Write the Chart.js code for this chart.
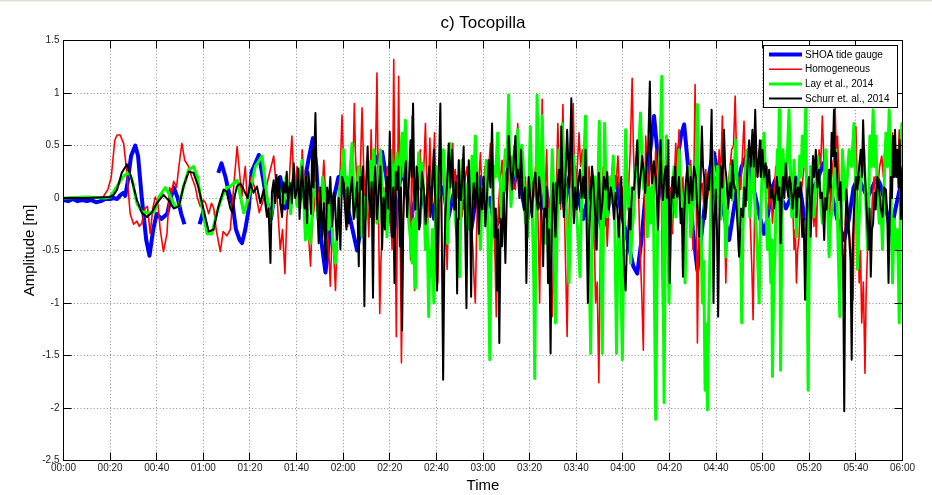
<!DOCTYPE html>
<html><head><meta charset="utf-8">
<script src="https://cdn.jsdelivr.net/npm/chart.js@4"></script>
<style>html,body{margin:0;padding:0;background:#fff}canvas{display:block}</style>
</head><body>
<canvas id="c" width="932" height="495"></canvas>
<script>
// ---- data (time in minutes after 00:00, amplitude in m) ----
const xTickLabels = ['00:00','00:20','00:40','01:00','01:20','01:40','02:00','02:20','02:40','03:00','03:20','03:40','04:00','04:20','04:40','05:00','05:20','05:40','06:00'];
const yTickLabels = ['-2.5','-2','-1.5','-1','-0.5','0','0.5','1','1.5'];
const seriesNames = ['SHOA tide gauge','Homogeneous','Lay et al., 2014','Schurr et. al., 2014'];

const shoa = [[0,-0.02],[2,-0.03],[4,-0.01],[6,-0.03],[8,-0.02],[10,-0.03],[12,-0.02],[14,-0.04],[16,-0.03],[18,-0.01],[20,-0.01],[21.5,0],[23,-0.01],[24.5,0.03],[25.7,0.05],[26.5,0.02],[27.5,0.15],[29,0.4],[30.8,0.5],[32,0.4],[33.6,0],[35.5,-0.4],[36.9,-0.55],[38.5,-0.3],[40,-0.15],[42,-0.2],[44.5,-0.15],[46,0],[47.3,0.1],[49,0],[50.5,-0.15],[51.9,-0.25],[55,null],[58.4,-0.25],[60.1,-0.12],[63,null],[66.4,0.24],[67.8,0.33],[69.5,0.2],[71,0.05],[72.5,-0.05],[74,-0.3],[75.6,-0.4],[76.6,-0.43],[78,-0.3],[79.5,-0.1],[80.7,0.25],[82.3,0.33],[83.8,0.41],[85.5,0.2],[87,0],[89,-0.2],[91,0.1],[93,0.2],[95,-0.1],[97,0],[99,0.2],[101,-0.05],[103,0.1],[105,0.35],[107,0.57],[108.5,0.3],[110,-0.3],[112.4,-0.71],[114,-0.4],[116,0],[118,0.2],[120,0.1],[122,-0.1],[124,-0.3],[126,-0.5],[127.5,-0.3],[129,0],[131,0.1],[133,0.3],[135,0.4],[136.7,0.44],[138.5,0.2],[140,-0.1],[141.5,-0.4],[143,-0.1],[145,0.29],[147,0.1],[149,-0.2],[151,0],[153,0.2],[155,-0.1],[157,0.1],[159,-0.2],[161,0],[163,0.1],[165,-0.2],[167,0],[169,0.2],[171,-0.1],[173,0],[175,-0.3],[177,0],[179,0.2],[181,-0.1],[183,0],[185,-0.3],[187,-0.2],[189,0.1],[191,0.3],[193,0.1],[195,0.3],[197,0],[199,-0.2],[201,0],[203,0.2],[205,-0.1],[207,0.1],[209,-0.2],[211,0.1],[213,0.2],[215,-0.1],[217,0.2],[219,0.3],[221,0],[223,-0.2],[225,0],[227,0.2],[229,-0.1],[231,-0.3],[233,-0.2],[235,0.1],[237,0.2],[239,-0.1],[241,-0.3],[243,-0.5],[244.5,-0.65],[246.2,-0.72],[248,-0.4],[250,0.1],[252,0.5],[253.4,0.78],[255,0.4],[257,0],[259,-0.2],[261,0],[263,0.3],[265,0.6],[266.3,0.7],[268,0.3],[270,-0.3],[272,-0.69],[274,-0.3],[276,0.1],[278,0.35],[279.1,0.43],[281,0.2],[283,-0.1],[285.6,-0.4],[287,-0.2],[289,0.1],[291,0.3],[293,0.4],[295,0.2],[297,0],[299,-0.2],[300.6,-0.34],[302,-0.2],[304,0.1],[306,0.2],[308,0],[310,-0.1],[312,0],[314,0.2],[316,0.1],[318,-0.2],[320,-0.1],[322,0.1],[324,0.2],[326,0.33],[328,0.2],[330,0],[332,-0.2],[335,-0.4],[337,-0.2],[339,0.1],[341,0.2],[343,0.1],[345,0],[347,0.1],[349,0.2],[351,0.1],[353,-0.1],[355,-0.34],[357,-0.1],[359,0.1],[360,0.2]];

const homogeneous = [[0,0],[5,0.01],[10,0],[15,0],[17,0.01],[19,0.08],[20.5,0.2],[22,0.55],[23,0.6],[24.3,0.6],[25.8,0.52],[27.2,0.24],[28.6,-0.15],[30.1,-0.25],[31.5,-0.22],[32.5,-0.27],[33.6,-0.24],[35,-0.1],[36,-0.08],[37.2,-0.34],[38.3,-0.1],[39.4,0.01],[40.5,-0.05],[41.5,-0.3],[42.9,-0.51],[44.4,-0.34],[45.5,0.1],[46.4,0.05],[47.3,0.16],[48.5,0.1],[49.5,0.3],[50.8,0.52],[52,0.36],[53.7,0.3],[55,0.2],[56.5,0.11],[57.5,0],[58.7,-0.08],[60,-0.02],[61,-0.05],[62.3,-0.15],[63.5,-0.05],[64.5,-0.1],[65.5,-0.3],[67.3,-0.51],[68.5,-0.32],[70.1,-0.36],[71.6,-0.3],[73,0.1],[74.5,0.49],[75.5,0.25],[76.5,0.01],[78,0.3],[79,-0.08],[80.5,0.2],[82,0.1],[84,-0.14],[86,0],[88,0.2],[90.2,0.4],[91.5,0.05],[93,-0.49],[94,-0.3],
[95,-0.72],[95.8,-0.2],[96.5,0],[97.2,0.3],[98,0.59],[98.7,0.2],[99.5,0.08],[100.2,0.3],[101,0.2],[101.7,-0.1],[102.4,0.46],[103.2,0.2],[104,0],[105,-0.3],[106,-0.65],[106.8,-0.2],[107.5,-0.11],[108.2,0.3],[109,0.1],[110.3,-0.2],[111.7,0.36],[112.3,0.1],[113,-0.2],[113.8,-0.5],[114.5,-0.84],[115,-0.5],[115.5,-0.3],[116.1,-0.6],[116.7,-0.88],[117.4,-0.4],[118,0],[118.8,0.3],[119.5,0.79],[120.2,0.3],[120.9,-0.11],[121.4,0.1],[121.9,-0.27],[122.8,0.1],[123.8,0.52],[124.3,0.4],[124.8,0.9],[125.3,0.4],[125.9,0.14],[126.3,0.3],[126.7,-0.11],[127.4,0.3],[128.1,0.86],[128.8,0.3],[129.5,-0.08],[130.2,0.1],[131,-0.37],[131.5,0],[132,0.65],[132.6,0.1],[133.1,-0.24],[133.8,0.3],[134.5,1.19],[135.1,0],[135.7,-1.1],[136.2,-0.6],[136.7,-0.37],[137.4,0.1],[138.1,-0.24],[138.9,0.3],[139.6,0.14],[140.3,-0.1],[141,-0.49],[141.7,1.32],[142.8,-1.32],[143.8,1.16],[145,-1.57],[145.5,-0.6],[146,-0.02],[146.7,0.35],[147.4,0.2],[148.2,0],[148.9,-0.59],[149.6,0.78],[150.6,-0.88],[151.4,-0.18],[152.3,0.1],[153.1,0.46],[153.7,0],[154.3,0.14],[154.8,0.4],[155.3,0.71],[155.8,0.2],[156.3,-0.24],[156.8,0.2],[157.2,0.57],[157.7,0.2],[158.2,-0.05],[158.7,0.3],[159.2,0.62],[159.9,-0.1],[160.6,-0.81],[161.5,0],[162.5,0.43],[163,0.2],[163.5,-0.05],[164.1,-0.3],[164.6,-0.68],[165.3,-0.1],[166,0.2],[166.5,0.4],[167,0.52],[167.5,0.1],[168.1,0.27],[168.8,0],[169.6,0.36],[170.3,0.1],[171,-0.18],[171.7,0],[172.4,0.2],[173.2,0.3],[173.9,-0.02],[174.8,-0.2],[175.7,-0.49],[176.2,-0.8],[176.7,-1],[177.2,-0.4],[177.7,0.08],[178.3,0.2],[178.9,0.43],[179.5,0.1],[180,0.01],[180.8,0.3],[181.7,0.14],[182.5,0.3],[183.2,0.52],[183.9,0.1],[184.6,-0.24],[185.2,-0.6],[185.7,-1.13],[186.2,-0.4],[186.7,-0.05],[187.5,0.2],[188.2,0.36],[188.9,0],[189.6,0.2],[190.3,0],[191,0.27],[191.8,0.1],[192.5,0.4],[193.2,0.1],[193.9,0.08],[194.4,0.4],[194.9,0.71],[195.5,0.3],[196,0.14],[196.8,0.3],[197.5,-0.02],[198.2,0.2],[198.9,-0.18],[199.6,0.1],[200.3,-0.11],[201,0.2],[201.8,0.01],[202.5,0.3],[203.2,0.14],[203.8,-0.4],[204.3,-1],[204.9,0.1],[205.4,0.94],[205.8,0.3],[206.2,-0.37],[206.8,0.1],[207.3,0.46],[207.8,0],[208.3,-0.37],[209,-0.7],[209.7,-1.13],[210.4,-0.5],[211.1,-0.24],[211.6,0.2],[212.1,0.71],[212.7,0.3],[213.3,-0.11],[213.8,0.4],[214.3,0.89],[214.7,0.3],[215,-0.18],[215.6,-0.8],[216.1,-1.32],[216.7,-0.4],[217.3,0.14],[218,0.5],[218.7,0.9],[219.2,0.3],[219.7,0.01],[220.5,0.3],[221.2,0.62],[221.9,0.3],[222.6,0.46],[223.3,0.1],[224,0.2],[224.8,0],[225.5,0.3],[226.2,0],[226.9,-0.49],[227.6,-0.2],[228.3,-1],[229,-0.8],[229.7,-1.76],[230.3,-0.6],[230.9,0.01],[231.6,0.3],[232.2,0.14],[232.8,-0.1],[233.3,-0.46],[234,-0.1],[234.8,0.14],[235.5,0.3],[236.2,0.08],[237,0.1],[237.9,0.4],[238.5,0.1],[239,-0.18],[239.7,0.1],[240.5,-0.37],[241.3,0.1],[242.2,-0.02],[243.1,0.4],[244,1.14],[244.5,0.5],[245,0.14],[245.6,0.3],[246.2,0.46],[246.8,0],[247.4,-0.49],[248.1,-0.9],[248.8,-1.45],[249.3,-0.3],[249.8,0.59],[250.5,0.3],[251.2,0.08],[251.9,0.4],[252.6,0.2],[253.3,0],[254.1,0.46],[254.7,0.1],[255.3,0.2],[255.8,0.5],[256.2,0.78],[256.7,-0.3],[257.2,-1.29],[257.8,-0.3],[258.4,0.46],[259.1,0.1],[259.8,-0.18],[260.5,0.1],[261.3,-0.34],[262,0.1],[262.7,0.52],[263.4,0.2],[264.1,0.65],[264.7,0.2],[265.3,-0.02],[265.8,0.2],[266.3,-0.34],[267,0],[267.7,0.14],[268.4,0],[269.1,0.36],[269.6,0.1],[270.1,-0.49],[270.5,0.2],[271,1.08],[271.5,0],[272,-1.38],[272.5,-0.5],[273,-0.18],[273.5,0.1],[274.1,0.14],[274.8,-0.1],[275.6,0.27],[276.3,0],[277,0.08],[277.7,0.3],[278.4,0.27],[279.1,0],[279.9,0.2],[280.6,0],[281.3,0.46],[282,0.2],[282.7,0.78],[283.5,0],[284.2,-0.81],[284.8,-0.2],[285.3,0.14],[286,0.3],[286.7,0.46],[287.5,0.5],[288.2,0.97],[288.9,0.3],[289.6,-0.18],[290.1,0.2],[290.6,0.08],[291.3,0.4],[292,0.73],[292.7,0.2],[293.5,-0.02],[294.2,0.1],[294.9,-0.37],[295.4,-0.7],[295.9,-1.16],[296.5,-0.2],[297,0.62],[297.7,0.2],[298.5,0.46],[299,0.2],[299.6,0.55],[300.3,0.2],[301,0.14],[301.9,0.3],[302.8,-0.11],[303.5,0.1],[304.2,-0.24],[304.9,0],[305.6,0.3],[306.6,0],[307.7,0.2],[308.8,0],[309.9,0.27],[311,0.1],[312,0.3],[312.8,0],[313.5,-0.49],[314,-0.3],[314.5,-0.81],[315,-0.5],[315.6,-0.37],[316.3,0],[317,0.14],[317.8,0.3],[318.5,0.46],[319.2,0],[319.9,0.14],[321,0],[322,-0.27],[322.5,0],[323,-0.37],[323.6,0.1],[324.2,0.46],[324.9,0.3],[325.6,0.78],[326.5,0.2],[327.4,0.4],[328,0],[328.5,-0.49],[329,0],[329.6,0.36],[330.3,0.2],[331.1,0.86],[331.6,0.4],[332.1,0.59],[332.8,0.2],[333.5,-0.18],[334.2,-0.5],[334.9,-0.97],[335.4,-0.3],[335.9,0.05],[336.8,-0.2],[337.8,-0.49],[338.3,-0.6],[338.8,-0.97],[339.4,0],[340,0.68],[340.7,0],[341.4,-0.81],[342,-0.5],[342.5,-1.19],[343.2,-0.8],[343.9,-1.67],[344.4,-0.9],[345,-0.49],[345.7,-0.2],[346.4,-0.37],[347.1,0],[347.8,0.2],[348.5,0],[349.3,0.08],[350.2,0.3],[351.1,0.4],[351.8,0.2],[352.5,0.52],[353.4,0.3],[354.3,0.52],[355,0.3],[355.7,0.62],[356.4,0.2],[357.1,0.4],[357.8,0.2],[358.6,0.65],[359.1,0.4],[359.7,0.3],[360,0.3]];

const lay = [[0,0],[10,0.01],[18,0],[20,0.01],[22.9,0.11],[25.5,0.2],[27.9,0.25],[29.5,0.17],[31.5,-0.05],[33.6,-0.13],[35.8,-0.14],[38.7,-0.14],[41,0.01],[43.7,0.1],[45.5,0.03],[47.9,-0.08],[49.5,-0.08],[51.5,0.11],[53.7,0.27],[55.8,0.3],[57.5,0.2],[59.4,-0.08],[61.6,-0.34],[63.7,-0.34],[65.8,-0.14],[68,0.01],[70.1,0.1],[71.6,0.11],[74.5,0.17],[77.3,-0.14],[79.5,0.01],[82.3,0.3],[85.2,0.4],[87.3,0.01],[88.8,-0.21],[91.6,0.14],
[94.5,-0.05],[95.5,0.2],[96.5,0.1],[97.5,-0.15],[98.8,0.27],[99.5,0.1],[100.2,-0.08],[101.3,0.2],[102.4,0.36],[103.1,0],[103.8,-0.4],[104.5,-0.1],[105.2,-0.35],[106,-0.43],[107,0],[108.1,0.14],[109.1,-0.2],[110.2,-0.11],[111.2,0.2],[112.2,-0.1],[113.1,0.05],[113.8,-0.3],[114.5,0.01],[115.6,-0.4],[116.7,-0.62],[117.4,-0.3],[118.1,0.01],[119.2,0.2],[120.3,0.46],[121,0.1],[121.6,0.2],[122.4,-0.11],[123.1,0.3],[123.8,0.52],[124.5,0.1],[125.2,-0.18],[126,0.1],[126.7,0.3],[127.4,0],[128.1,-0.37],[128.6,-0.1],[129.1,0.01],[129.7,-0.2],[130.3,0.2],[131,0],[131.7,0.35],[132.4,0.1],[133.1,0.46],[133.8,0.1],[134.5,-0.24],[135.2,0.1],[136,0.46],[136.7,0.1],[137.4,-0.18],[138.1,0.05],[138.8,-0.37],[139.5,0.1],[140.3,0.46],[141,0.2],[141.7,0.08],[142.4,0.3],[143.1,0.43],[143.8,0],[144.5,0.35],[145.3,0.62],[146,0.2],[146.7,0.74],[147.4,0.2],[148.1,-0.21],[148.9,-0.4],[149.6,-0.62],[150.3,-0.2],[151,-0.86],[151.7,0],[152.4,0.43],[153.1,0.1],[153.9,0.33],[154.6,0],[155.3,-0.49],[156,-0.2],[156.7,-1.13],[157.2,-0.5],[157.7,-0.75],[158.3,-0.3],[158.9,-1],[159.6,-0.2],[160.3,0.3],[161,0],[161.7,0.08],[162.3,0.3],[163,0.46],[163.9,0],[164.8,-0.43],[165.4,0.1],[166,0.52],[166.7,0.2],[167.4,0.08],[168.1,-0.2],[168.9,-0.37],[169.4,-0.2],[170,-0.75],[170.5,-0.1],[171,0.36],[171.7,0],[172.4,0.14],[173.3,-0.3],[174.3,-0.18],[174.8,0.1],[175.3,0.4],[176,0.1],[176.7,0.59],[177.2,0.3],[177.7,0.14],[178.3,-0.2],[178.9,-0.49],[179.5,0],[180,0.11],[180.7,-0.1],[181.4,0.36],[182.1,-0.3],[182.9,-1.54],[183.4,-0.6],[183.9,-0.11],[184.6,0.3],[185.3,0.2],[185.8,0.4],[186.3,0.62],[186.9,0.2],[187.5,0.14],[188,-0.2],[188.6,0.01],[189.1,0.3],[189.6,0.46],[190.3,0.3],[191,0.98],[191.5,0.3],[192,-0.08],[192.7,0.2],[193.5,0.49],[194.2,0.2],[194.9,0.65],[195.5,0.4],[196,0.2],[196.6,0.5],[197.2,0.36],[197.7,0],[198.2,-0.24],[198.7,0.1],[199.2,-0.37],[199.7,0.1],[200.3,0.68],[200.8,0.2],[201.3,-0.27],[201.8,-0.8],[202.2,-1.72],[202.7,-0.3],[203.2,0.98],[203.8,0.3],[204.4,-0.02],[204.9,0.3],[205.4,0.78],[206.1,0.1],[206.8,-0.43],[207.5,-0.1],[208.3,-0.81],[209,-0.2],[209.7,0.46],[210.4,0],[211.1,-1.19],[211.8,-0.3],[212.6,0.46],[213.3,0.2],[214,0.71],[214.7,0.3],[215.4,0.08],[216.2,-0.3],[216.9,-0.81],[217.6,-0.2],[218.3,0.14],[219,0.4],[219.7,-0.02],[220.6,-0.3],[221.6,-0.75],[222.3,0],[223,0.3],[223.5,0.5],[224,0.78],[224.5,0.2],[225,-0.18],[225.6,-0.7],[226.2,-1.48],[226.8,-0.3],[227.3,0.08],[228,0.2],[228.7,-0.49],[229.3,0.1],[229.9,0.73],[230.5,-0.2],[231.2,-1.48],[231.7,-0.2],[232.2,0.71],[232.7,0.2],[233.3,-0.18],[234,0.2],[234.8,-0.05],[235.3,0.1],[235.9,0.4],[236.6,-0.3],[237.3,-1.48],[237.8,-0.6],[238.3,-0.24],[239,-0.6],[239.8,-1.54],[240.5,-0.3],[241.2,0.65],[241.7,0.2],[242.2,-0.11],[242.7,0.1],[243.3,-0.62],[244,-0.3],[244.8,-0.11],[245.5,0.3],[246.2,0.2],[246.9,0.5],[247.6,0.81],[248.3,0.3],[249,0.08],[249.8,0.3],[250.5,-0.37],[251.2,0.1],[251.9,-0.24],[252.5,0.1],[253,0.2],[253.5,-0.8],[254.1,-2.11],[254.8,-0.5],[255.5,0.3],[256.1,0.5],[256.7,1.16],[257.2,-0.3],[257.7,-1.95],[258.2,-0.4],[258.7,0.59],[259.2,0],[259.8,-1],[260.5,-0.3],[261.3,0.08],[262,0.3],[262.7,-0.18],[263.4,0.1],[264.1,0.46],[264.8,0.1],[265.6,-0.02],[266.1,-0.3],[266.7,-0.81],[267.2,-0.3],[267.7,0.08],[268.4,0.3],[269.1,-0.37],[270,-0.1],[271,0.14],[271.5,0.4],[272,0.89],[272.5,0.2],[273,-0.37],[273.5,-0.2],[274.1,-1],[274.7,-0.6],[275.3,-1.83],[275.8,-1.2],[276.3,-2.02],[276.8,-1.2],[277.3,-0.62],[277.8,0],[278.4,0.46],[279.1,0.1],[279.9,-0.11],[280.6,0.3],[281.3,0.08],[282,-0.2],[282.7,0.27],[283.5,0],[284.2,-0.56],[284.9,-0.1],[285.6,0.08],[286.3,0.3],[287,-0.02],[287.7,0.2],[288.4,0.55],[289.1,0.1],[289.9,-0.49],[290.5,-0.3],[291,-1.19],[291.5,-0.4],[292,0.14],[292.7,0.3],[293.5,0.46],[294,0.1],[294.5,-0.18],[295,0],[295.6,0.36],[296.3,0.1],[297,-0.18],[297.7,-0.5],[298.5,-1],[299,-0.3],[299.6,0.14],[300.1,0.4],[300.6,0.62],[301.3,0.1],[302,-0.49],[302.7,-0.2],[303.5,-0.81],[303.9,-0.4],[304.2,-1.7],[304.7,-0.9],[305.3,-0.49],[305.8,0],[306.3,0.46],[306.7,0.2],[307.1,0.84],[307.4,-0.3],[307.7,-1.64],[308.2,-0.4],[308.7,0.46],[309.3,0.2],[309.9,0.08],[310.6,0.4],[311.3,0.84],[311.9,0.2],[312.5,-0.18],[313,0.1],[313.5,0.36],[314,0],[314.5,-0.37],[315.2,0],[315.9,0.4],[316.5,0.2],[317,0.59],[317.7,0.3],[318.5,0.87],[319,-0.3],[319.5,-1.83],[320,-0.5],[320.6,0.3],[321.3,0],[322,-0.18],[322.7,0.1],[323.5,0.4],[324.5,0.1],[325.6,-0.24],[326.3,0.1],[327.1,0.46],[327.8,0],[328.5,-0.56],[329.2,-0.2],[329.9,-0.11],[330.6,0.2],[331.4,0.46],[332.2,-0.3],[333.1,-1.13],[333.6,-0.3],[334.2,0.46],[334.9,0.2],[335.6,-0.02],[336.3,0.2],[337.1,0.46],[338.1,0.3],[339.2,0.71],[340,0],[340.7,-0.68],[341.4,-0.2],[342.1,0.14],[342.8,0.3],[343.5,0.46],[344.2,0],[345,-0.49],[345.5,0],[346,0.59],[346.7,0.3],[347.4,0.84],[348,0.3],[348.5,0.59],[349.2,0.1],[350,-0.24],[350.7,0],[351.4,-0.49],[352.1,0.1],[352.9,0.62],[353.6,0.3],[354.3,0.84],[355,0.1],[355.7,-0.81],[356.4,-0.2],[357.1,-0.49],[357.9,-0.3],[358.6,-1.19],[359.2,0.2],[359.7,0.71],[360,0.5]];

const schurr = [[0,0],[10,0],[20,0.01],[21.5,0.03],[23,0.08],[25,0.24],[27.2,0.32],[29,0.2],[31.5,-0.02],[33.6,-0.14],[35.8,-0.18],[37.8,-0.14],[40,-0.05],[42.9,0.03],[45,-0.02],[47.3,-0.1],[49.5,-0.08],[51.5,0.11],[53.7,0.25],[55.8,0.24],[57.8,0.11],[60.1,-0.11],[62.3,-0.32],[64.4,-0.3],[66.5,-0.08],[68.7,0.08],[70,0.06],[71.6,-0.1],[72.5,-0.14],[73.5,0.02],[74.4,0.11],[75.9,0.14],[77.3,0.08],[79,0],[80.2,0.14],[81.5,0.05],[83,0.11],[84.5,-0.05],[85.9,0.08],[87.3,-0.18],
[88,-0.1],[88.8,-0.62],[89.4,0.05],[90.2,0.17],[90.8,-0.05],[91.4,0.22],[92,0],[92.4,0.2],[93,-0.05],[93.8,-0.18],[94.4,0.15],[95.2,0.05],[95.8,0.25],[96.3,-0.1],[96.9,0.1],[97.4,0.14],[98,-0.05],[98.8,0.33],[99.4,0],[100.2,0.08],[100.7,0.28],[101.3,-0.2],[101.8,0.1],[102.4,0.3],[103,0.02],[103.5,-0.1],[104,0.2],[104.5,-0.24],[105.1,0.25],[105.6,0.1],[106.2,-0.15],[106.7,0.46],[107.3,0.1],[108.1,0.81],[108.8,0],[109.5,-0.43],[110.2,0.1],[111,-0.37],[111.7,-0.05],[112.4,-0.59],[113.1,0.1],[113.8,-0.05],[114.5,0.2],[115.3,-0.27],[115.9,0.05],[116.4,0],[116.9,-0.25],[117.4,-0.4],[118.1,0],[118.8,-0.49],[119.5,0.2],[120.3,0.14],[120.8,-0.1],[121.4,-0.3],[121.9,0.1],[122.4,-0.24],[123.1,0.05],[123.8,0.2],[124.5,-0.2],[125.2,-0.08],[125.9,0.15],[126.7,-0.65],[127.2,0.2],[127.7,0.08],[128.4,0.3],[129.1,-1.03],[129.8,0.1],[130.5,0.49],[131.1,0],[131.7,-0.18],[132.2,0.15],[132.8,-0.95],[133.3,0.1],[133.8,0.3],[134.5,-0.2],[135.3,0.08],[136,0.3],[136.7,-0.49],[137.3,0],[137.9,-0.3],[138.4,0.1],[138.8,0.2],[139.4,-0.1],[140,0.63],[140.5,0],[141,-0.37],[141.5,0.1],[142,-0.81],[142.6,0.25],[143.1,0.08],[143.7,0.3],[144.3,-0.46],[144.8,0.1],[145.3,-1.26],[145.8,-0.2],[146.3,0.2],[146.9,0.35],[147.4,-0.18],[148.1,0.1],[148.9,0.55],[149.4,0.2],[150,0.9],[150.5,0.1],[151,-0.11],[151.5,0.3],[152,0.2],[152.6,-0.3],[153.1,-0.24],[153.8,0.25],[154.6,0.08],[155.4,-0.25],[156.3,0.14],[156.9,0.3],[157.4,-0.18],[158.1,0.05],[158.9,0.46],[159.6,-0.1],[160.3,-0.88],[161,0.2],[161.7,0.9],[162.3,-0.3],[162.9,-1.73],[163.4,-0.6],[163.8,-0.18],[164.5,0.1],[165.3,0.52],[166,0.1],[166.7,0.46],[167.2,0.1],[167.7,-0.11],[168.3,0.15],[168.9,-0.91],[169.3,-0.2],[169.6,0.36],[170.1,0.1],[170.6,-0.02],[171.2,0.25],[171.7,0.49],[172.3,-0.2],[172.9,-1.05],[173.4,-0.1],[173.9,0.36],[174.4,0],[174.9,-0.94],[175.4,-0.1],[176,0.14],[176.7,-0.1],[177.4,0.24],[177.8,0],[178.2,-0.34],[178.9,0.1],[179.6,-0.11],[180.3,0.2],[181,-0.27],[181.7,0],[182.4,0.36],[183.2,0.1],[183.9,0.71],[184.4,0.1],[184.9,-0.37],[185.5,-0.1],[186,-0.88],[186.5,-0.3],[187,-1.38],[187.6,-0.2],[188.2,-0.46],[188.9,0.05],[189.6,-0.62],[190.3,0.1],[191,0.59],[191.7,0.3],[192.5,0.08],[193.2,0.35],[193.9,0.59],[194.4,0.2],[194.9,0.27],[195.6,0],[196.3,0.46],[196.9,0.1],[197.5,-0.11],[198.1,0.1],[198.6,-0.81],[199.1,-0.2],[199.6,0.2],[200.3,0],[201,-0.18],[201.7,0.15],[202.5,0.24],[203,0],[203.5,-0.11],[204.1,0.2],[204.6,0.08],[205.2,-0.2],[205.8,-0.65],[206.3,-0.1],[206.8,-0.18],[207.3,0.1],[207.9,-0.81],[208.4,-0.3],[209,-1.48],[209.6,-0.2],[210.1,0.14],[210.6,-0.1],[211.1,-0.37],[211.8,0.1],[212.6,0.27],[213.1,-0.05],[213.6,0.68],[214.2,0.1],[214.7,-0.18],[215.4,0.2],[216.1,0.65],[217,0.1],[217.9,0.95],[218.5,0.1],[219,-0.24],[219.6,0.1],[220.2,-0.11],[220.9,0.15],[221.6,0.27],[222.3,0],[223,0.2],[223.5,0],[224,0.46],[224.5,-0.3],[225,-1],[225.6,-0.3],[226.2,-0.02],[226.8,0.3],[227.3,0.17],[228,-0.1],[228.7,-0.49],[229.2,0],[229.7,0.24],[230.5,-0.2],[231.2,-0.05],[231.9,0.2],[232.6,0.08],[233.3,0.25],[234,-0.11],[234.8,0.1],[235.5,0.01],[236.2,-0.2],[236.9,0.05],[237.6,-0.1],[238.3,-0.37],[238.8,-0.1],[239.3,0.2],[239.9,-0.2],[240.5,-0.62],[241.2,-0.88],[241.7,-0.5],[242.2,-0.37],[242.8,-0.1],[243.3,-0.3],[244,0.1],[244.8,0.08],[245.5,0.3],[246.2,0.55],[246.9,0],[247.6,0.2],[248.3,0.4],[249,0.24],[249.6,0.05],[250.2,0.33],[250.9,0.5],[251.6,1.11],[252.1,0.4],[252.6,0.14],[253.3,0.35],[254.1,0.2],[254.6,0],[255.1,-0.3],[255.7,0.2],[256.2,0.55],[256.7,0.1],[257.2,-0.02],[257.8,0.2],[258.4,0.3],[258.9,0],[259.5,0.55],[260.1,-0.81],[260.7,-0.1],[261.3,0.2],[261.8,0],[262.4,0.3],[262.9,0.05],[263.4,0.01],[264.1,0.2],[264.8,-0.24],[265.3,-0.1],[265.8,-0.75],[266.4,-0.1],[267,0.14],[267.7,0.3],[268.4,-0.05],[269.1,0.2],[269.8,-0.02],[270.5,0.3],[271.3,0.2],[272,-0.1],[272.7,-0.37],[273.3,0.1],[273.9,0.68],[274.4,0.3],[274.9,0.2],[275.4,-0.2],[275.9,-0.08],[276.5,0.2],[277,0.08],[277.6,0.4],[278.1,0.84],[278.5,0],[278.9,-1],[279.4,-0.2],[279.9,0.08],[280.4,-0.3],[280.9,-1.13],[281.4,-0.2],[282,0.3],[282.7,0.1],[283.4,0.65],[283.9,0.3],[284.4,0.2],[285.2,-0.1],[285.9,0.14],[286.5,0],[287,0.36],[287.7,0.1],[288.4,0.08],[289.1,-0.2],[289.9,-0.56],[290.7,-0.1],[291.6,-0.18],[292.1,0.1],[292.7,-0.08],[293.5,0.3],[294.2,0.55],[294.9,0.3],[295.6,0.65],[296.2,0.3],[296.8,0.84],[297.3,0.4],[297.8,0.2],[298.3,0.35],[298.8,0.55],[299.3,0.2],[299.9,0.46],[300.6,0.2],[301.3,0.33],[302,0.1],[302.8,0.27],[303.5,0],[304.2,0.08],[304.9,-0.1],[305.6,0.05],[306.1,0.2],[306.7,-0.02],[307.2,0.1],[307.7,-0.43],[308.2,0],[308.7,0.2],[309.3,0],[309.9,0.33],[310.5,0.1],[311,0.01],[311.5,0.2],[312,0.14],[312.8,-0.1],[313.5,0.08],[314,0.2],[314.5,-0.18],[315.1,0.1],[315.6,0.01],[316.3,0.15],[317,-0.37],[317.6,-0.2],[318.2,-0.97],[318.7,-0.3],[319.2,0.08],[319.9,0.2],[320.6,-0.37],[321.1,0],[321.6,0.4],[322.2,0.2],[322.8,0.46],[323.5,0.1],[324.2,0.27],[324.8,0],[325.4,0.05],[325.9,-0.1],[326.4,-0.4],[326.9,0],[327.4,-0.11],[328,0.1],[328.5,0.27],[329.1,0.1],[329.6,0.62],[330.1,0.4],[330.6,0.84],[331.1,0.3],[331.6,0.43],[332.2,0.1],[332.8,-0.02],[333.4,0.15],[333.9,-0.27],[334.5,-0.6],[335,-2.03],[335.5,-0.4],[335.9,0.08],[336.5,-0.1],[337.1,-0.37],[337.7,-0.6],[338.2,-1.54],[338.7,-0.4],[339.2,-0.11],[340,0.2],[340.7,0.08],[341.4,0.3],[342.1,0.46],[342.6,0.2],[343.1,0.74],[343.7,0.3],[344.2,0.08],[344.8,-0.2],[345.4,-0.49],[345.9,-0.1],[346.4,-0.75],[346.9,-0.3],[347.4,-0.24],[348,0.05],[348.5,-0.11],[349.2,0.2],[350,0.08],[350.7,-0.1],[351.4,-0.18],[352.1,0.1],[352.9,0.08],[353.5,-0.2],[354,-0.81],[354.5,-0.2],[355,0.2],[355.5,0],[356,0.59],[356.4,0.2],[356.8,0.65],[357.3,0.2],[357.8,0.46],[358.3,0.1],[358.8,0.55],[359.3,-0.2],[359.7,0.2],[360,0.3]];

const seriesColors = ['#0000ff','#ff0000','#00ff00','#000000'];
const seriesWidths = [4, 1.6, 3, 2];

// ---- chart ----
const FONT = "'Liberation Sans', Arial, sans-serif";
const toXY = arr => arr.map(p => ({x: p[0], y: p[1]}));
const allSeries = [shoa, homogeneous, lay, schurr];

const datasets = allSeries.map((s, i) => ({
  label: seriesNames[i],
  data: toXY(s),
  borderColor: seriesColors[i],
  backgroundColor: seriesColors[i],
  borderWidth: seriesWidths[i],
  pointRadius: 0,
  tension: 0,
  fill: false,
  spanGaps: false,
  borderJoinStyle: 'round',
  order: 4 - i
}));

const bgPlugin = {
  id: 'bgPlugin',
  beforeDraw(chart) {
    const ctx = chart.ctx;
    ctx.save();
    ctx.fillStyle = '#ffffff';
    ctx.fillRect(0, 0, chart.width, chart.height);
    ctx.fillStyle = '#e2e0d6';
    ctx.fillRect(0, 0, chart.width, 1.5);
    ctx.restore();
  }
};

const align = p => Math.round(p - 0.5) + 0.5;

const framePlugin = {
  id: 'framePlugin',
  afterDatasetsDraw(chart) {
    const ctx = chart.ctx;
    const ca = chart.chartArea;
    const xs = chart.scales.x, ys = chart.scales.y;
    const L = align(ca.left), R = align(ca.right), T = align(ca.top), B = align(ca.bottom);
    ctx.save();
    ctx.strokeStyle = '#000';
    ctx.lineWidth = 1;
    ctx.setLineDash([]);
    ctx.beginPath();
    const tl = 8;
    xs.ticks.forEach(t => {
      const px = align(xs.getPixelForValue(t.value));
      ctx.moveTo(px, B); ctx.lineTo(px, B - tl);
      ctx.moveTo(px, T); ctx.lineTo(px, T + tl);
    });
    ys.ticks.forEach(t => {
      const py = align(ys.getPixelForValue(t.value));
      ctx.moveTo(L, py); ctx.lineTo(L + tl, py);
      ctx.moveTo(R, py); ctx.lineTo(R - tl, py);
    });
    ctx.stroke();
    ctx.strokeRect(L, T, R - L, B - T);

    // legend box (inside axes, north-east)
    const lx = 763.5, ly = 45.5, lw = 134, lh = 62;
    ctx.fillStyle = '#fff';
    ctx.fillRect(lx, ly, lw, lh);
    ctx.strokeRect(lx, ly, lw, lh);
    const rows = [54.5, 69.2, 83.9, 98.6];
    ctx.font = '10px ' + FONT;
    ctx.textBaseline = 'middle';
    ctx.textAlign = 'left';
    chart.data.datasets.forEach((ds, i) => {
      ctx.beginPath();
      ctx.strokeStyle = ds.borderColor;
      ctx.lineWidth = ds.borderWidth;
      ctx.moveTo(769, rows[i]); ctx.lineTo(802, rows[i]);
      ctx.stroke();
      ctx.fillStyle = '#000';
      ctx.fillText(ds.label, 805, rows[i] + 0.5);
    });
    ctx.restore();
  }
};

const gridCommon = { color: '#8a8a8a', lineWidth: 1, drawTicks: false, borderDash: [1, 2.3] };

new Chart(document.getElementById('c'), {
  type: 'line',
  data: { datasets },
  options: {
    responsive: false,
    animation: false,
    devicePixelRatio: 1,
    layout: { padding: { left: 0, right: 29.5, top: 0, bottom: 0 } },
    plugins: {
      legend: { display: false },
      tooltip: { enabled: false },
      title: {
        display: true,
        text: 'c) Tocopilla',
        fullSize: false,
        color: '#000',
        font: { family: FONT, size: 17, weight: 'normal' },
        padding: { top: 12.8, bottom: 7.3 }
      }
    },
    scales: {
      x: {
        type: 'linear',
        min: 0, max: 360,
        afterFit(s) { s.height = 34.5; },
        ticks: {
          stepSize: 20, autoSkip: false, maxRotation: 0, minRotation: 0, padding: 2,
          color: '#1a1a1a', font: { family: FONT, size: 10 },
          callback: (v, i) => xTickLabels[i]
        },
        grid: gridCommon,
        border: { display: false, dash: [1, 2.3] },
        title: { display: true, text: 'Time', color: '#000', font: { family: FONT, size: 15 }, padding: { top: 0, bottom: 0 } }
      },
      y: {
        type: 'linear',
        min: -2.5, max: 1.5,
        afterFit(s) { s.width = 63.5; },
        ticks: {
          stepSize: 0.5, padding: 4,
          color: '#1a1a1a', font: { family: FONT, size: 10 },
          callback: (v, i) => yTickLabels[i]
        },
        grid: gridCommon,
        border: { display: false, dash: [1, 2.3] },
        title: { display: true, text: 'Amplitude [m]', color: '#000', font: { family: FONT, size: 15 }, padding: { top: 21, bottom: 0 } }
      }
    }
  },
  plugins: [bgPlugin, framePlugin]
});
</script>
</body></html>
